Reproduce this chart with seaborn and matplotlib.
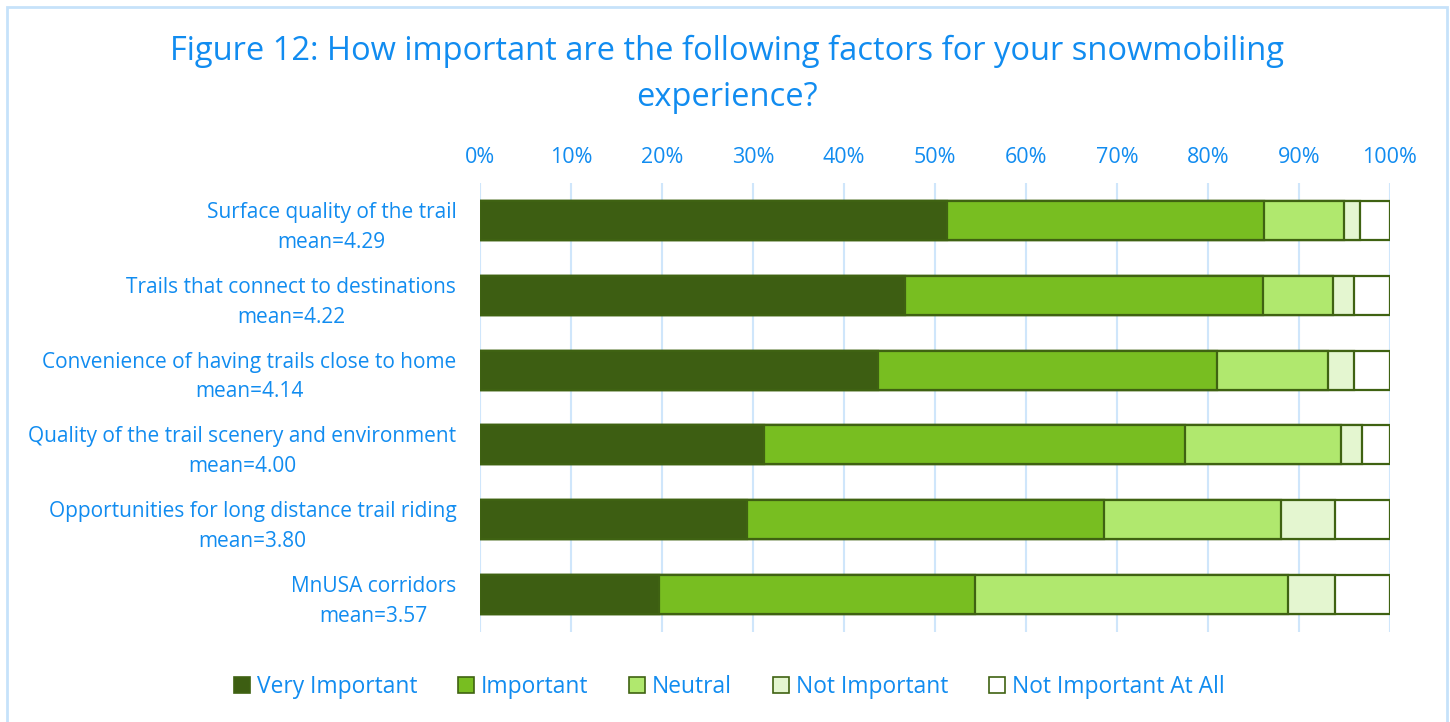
import pandas as pd
import matplotlib.pyplot as plt
import matplotlib.patches as mpatches
import seaborn as sns

# =========================
# 数据
# =========================
FACTORS = [
    "Surface quality of the trail\nmean=4.29",
    "Trails that connect to destinations\nmean=4.22",
    "Convenience of having trails close to home\nmean=4.14",
    "Quality of the trail scenery and environment\nmean=4.00",
    "Opportunities for long distance trail riding\nmean=3.80",
    "MnUSA corridors\nmean=3.57",
]
LEVELS = ["Very Important", "Important", "Neutral", "Not Important", "Not Important At All"]

very_important = [51.3, 46.7, 43.7, 31.2, 29.3, 19.7]
important = [34.9, 39.3, 37.3, 46.3, 39.3, 34.7]
neutral = [8.7, 7.7, 12.2, 17.1, 19.4, 34.4]
not_important = [1.8, 2.4, 2.9, 2.3, 6.0, 5.2]
not_at_all = [3.3, 3.9, 3.9, 3.1, 6.0, 6.0]

X_TICKS = [0, 10, 20, 30, 40, 50, 60, 70, 80, 90, 100]

COLORS = ["#3d5e12", "#78be21", "#b0e86e", "#e4f6d0", "#ffffff"]
EDGE = "#3f6212"
BLUE = "#118cf0"
GRID = "#cfe6fb"
BORDER = "#c6e2fa"


# =========================
# 画图
# =========================
def draw(df):
    sns.set_theme(style="white")
    plt.rcParams["font.family"] = ["Open Sans", "DejaVu Sans"]

    fig = plt.figure(figsize=(14.5, 7.22), dpi=100)
    ax = fig.add_axes([0.331, 0.1247, 0.6276, 0.6219])

    # 外框（底边在画布外）
    fig.patches.append(mpatches.Rectangle(
        (7 / 1450, -0.05), 1440 / 1450, 1.05 - 7 / 722,
        transform=fig.transFigure, fill=False, edgecolor=BORDER, lw=2,
    ))

    # 累积值，从最长的开始画，后面的覆盖前面的
    cum = df[LEVELS].cumsum(axis=1)
    for level, color in reversed(list(zip(LEVELS, COLORS))):
        sns.barplot(
            x=cum[level], y=df["factor"], orient="h",
            color=color, edgecolor=EDGE, linewidth=1.6,
            width=0.52, saturation=1, ax=ax,
        )

    ax.set_xlim(0, 100)
    ax.set_ylim(5.5, -0.5)
    ax.set_xticks(X_TICKS)
    ax.set_xticklabels([f"{t}%" for t in X_TICKS])
    ax.xaxis.tick_top()
    ax.set_xlabel("")
    ax.set_ylabel("")
    for t in X_TICKS:
        ax.axvline(t, color=GRID, lw=1.5, zorder=0)
    for s in ax.spines.values():
        s.set_visible(False)

    ax.tick_params(axis="x", length=0, pad=11, labelsize=15.5, labelcolor=BLUE)
    ax.tick_params(axis="y", length=0, pad=17, labelsize=15, labelcolor=BLUE)
    for lab in ax.get_yticklabels():
        lab.set_multialignment("center")
        lab.set_linespacing(1.55)
        lab.set_va("center_baseline")

    fig.text(0.5014, 1 - 51 / 722,
             "Figure 12: How important are the following factors for your snowmobiling",
             ha="center", va="center", fontsize=23.5, color=BLUE)
    fig.text(0.5014, 1 - 98 / 722, "experience?",
             ha="center", va="center", fontsize=23.5, color=BLUE)

    handles = [
        mpatches.Patch(facecolor=c, edgecolor=EDGE, lw=1.2, label=l)
        for l, c in zip(LEVELS, COLORS)
    ]
    fig.legend(
        handles=handles, loc="center", bbox_to_anchor=(0.503, 1 - 687 / 722),
        ncol=5, frameon=False, fontsize=16.4, labelcolor=BLUE,
        handlelength=0.7, handleheight=0.7, handletextpad=0.3, columnspacing=1.8,
    )

    fig.savefig("out.png", dpi=100)


if __name__ == "__main__":
    df = pd.DataFrame({
        "factor": FACTORS,
        "Very Important": very_important,
        "Important": important,
        "Neutral": neutral,
        "Not Important": not_important,
        "Not Important At All": not_at_all,
    })
    draw(df)
